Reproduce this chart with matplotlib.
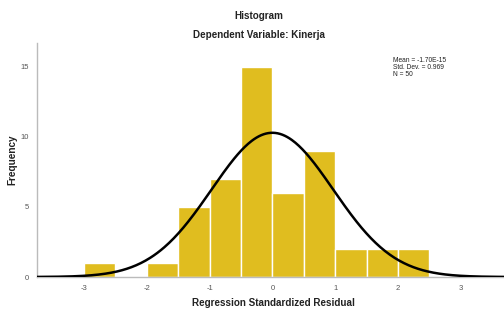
import numpy as np
import matplotlib.pyplot as plt

plt.rcParams['font.family'] = ['Liberation Sans', 'DejaVu Sans']
plt.rcParams['axes.unicode_minus'] = False

# histogram bins (width 0.5) and counts
bin_left = [-3.0, -2.5, -2.0, -1.5, -1.0, -0.5, 0.0, 0.5, 1.0, 1.5, 2.0]
counts = [1, 0, 1, 5, 7, 15, 6, 9, 2, 2, 2]
bin_width = 0.5
mean = -1.70e-15
std = 0.969
n = 50

fig = plt.figure(figsize=(5.04, 3.10), dpi=100)
ax = fig.add_axes([37 / 504, 33 / 310, 1 - 37 / 504, (277 - 43) / 310])

ax.bar(bin_left, counts, width=bin_width, align='edge', color='#E0BD1F',
       edgecolor='white', linewidth=1.0, zorder=2)

# normal curve scaled to counts
xs = np.linspace(-3.75, 3.75, 400)
ys = n * bin_width * np.exp(-0.5 * ((xs - mean) / std) ** 2) / (std * np.sqrt(2 * np.pi))
ax.plot(xs, ys, color='black', linewidth=1.8, zorder=3)

ax.set_xlim(-3.75, 3.69)
ax.set_ylim(0, 16.7)
ax.set_xticks([-3, -2, -1, 0, 1, 2, 3])
ax.set_yticks([0, 5, 10, 15])
ax.tick_params(length=0, labelsize=5.5, labelcolor='#555555', pad=6)
for s in ['top', 'right']:
    ax.spines[s].set_visible(False)
for s in ['left', 'bottom']:
    ax.spines[s].set_color('#BBBBBB')
    ax.spines[s].set_linewidth(1.0)

fig.text(12 / 504, 1 - 160 / 310, 'Frequency', rotation=90, ha='center', va='center',
         fontsize=7.2, fontweight='bold', color='#222222')
fig.text(273 / 504, 1 - 303 / 310, 'Regression Standardized Residual', ha='center',
         va='center', fontsize=7.1, fontweight='bold', color='#222222')

fig.text(259 / 504, 1 - 16 / 310, 'Histogram', ha='center', va='center', fontsize=7.1,
         fontweight='bold', color='#222222')
fig.text(259 / 504, 1 - 35 / 310, 'Dependent Variable: Kinerja', ha='center', va='center',
         fontsize=7.1, fontweight='bold', color='#222222')

fig.text(393 / 504, 1 - 57 / 310, 'Mean = -1.70E-15\nStd. Dev. = 0.969\nN = 50',
         ha='left', va='top', fontsize=4.8, color='#222222', linespacing=1.05)

plt.savefig('out.png', dpi=100)
